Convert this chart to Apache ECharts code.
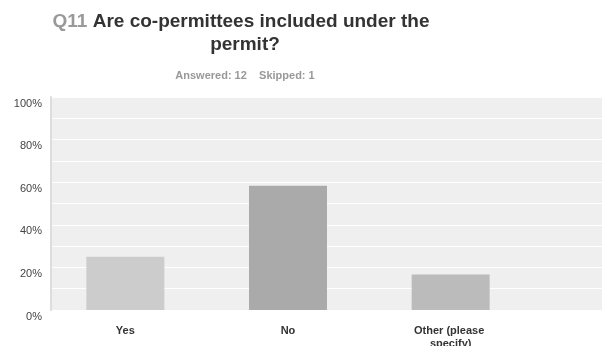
<!DOCTYPE html>
<html>
<head>
<meta charset="utf-8">
<script src="https://cdn.jsdelivr.net/npm/echarts@6/dist/echarts.min.js"></script>
<style>
html,body{margin:0;padding:0;background:#fff;}
#chart{width:602px;height:346px;}
</style>
</head>
<body>
<div id="chart"></div>
<script>
// Survey question Q11 response shares
const categories = ['Yes', 'No', 'Other (please specify)'];
const percentages = [25, 58.33, 16.67];
const barColors = ['#cccccc', '#aaaaaa', '#bbbbbb'];
const yTicks = [0, 20, 40, 60, 80, 100];

const chart = echarts.init(document.getElementById('chart'), null, { renderer: 'canvas' });
const font = 'Liberation Sans, Arial, sans-serif';

chart.setOption({
  animation: false,
  title: [
    {
      text: '{q|Q11} {t|Are co-permittees included under the}',
      left: 236, top: 5, textAlign: 'center',
      textStyle: {
        fontFamily: font, fontSize: 19, fontWeight: 'bold', lineHeight: 23,
        rich: {
          q: { color: '#999999', fontFamily: font, fontSize: 19, fontWeight: 'bold', lineHeight: 23 },
          t: { color: '#333333', fontFamily: font, fontSize: 19, fontWeight: 'bold', lineHeight: 23 }
        }
      }
    },
    {
      text: 'permit?',
      left: 240, top: 28, textAlign: 'center',
      textStyle: { fontFamily: font, fontSize: 19, fontWeight: 'bold', color: '#333333', lineHeight: 23 }
    },
    {
      text: 'Answered: 12    Skipped: 1',
      left: 240, top: 65, textAlign: 'center',
      textStyle: { fontFamily: font, fontSize: 11, fontWeight: 'bold', color: '#999999' }
    }
  ],
  grid: [
    { left: 51, right: 0, top: 97, bottom: 36, outerBoundsMode: 'none' },
    { left: 44, width: 488, top: 97, bottom: 36, outerBoundsMode: 'none' }
  ],
  xAxis: [
    { gridIndex: 0, type: 'value', show: false, min: 0, max: 1 },
    {
      gridIndex: 1, type: 'category', data: categories,
      axisLine: { show: false }, axisTick: { show: false },
      axisLabel: {
        margin: 14, fontFamily: font, fontSize: 11, fontWeight: 'bold', color: '#333333',
        width: 95, overflow: 'break', lineHeight: 13
      }
    }
  ],
  yAxis: [
    {
      gridIndex: 0, type: 'value', min: 0, max: 100, interval: 10,
      axisLine: { show: true, lineStyle: { color: '#dddddd', width: 2 } },
      axisTick: { show: false },
      axisLabel: {
        margin: 9, fontFamily: font, fontSize: 11, color: '#444444',
        verticalAlign: 'top', lineHeight: 13,
        formatter: v => yTicks.includes(v) ? v + '%' : ''
      },
      splitLine: { show: true, lineStyle: { color: '#ffffff', width: 1 } },
      splitArea: { show: true, areaStyle: { color: ['#efefef', '#efefef'] } }
    },
    { gridIndex: 1, type: 'value', min: 0, max: 100, show: false }
  ],
  series: [
    {
      type: 'bar', xAxisIndex: 1, yAxisIndex: 1,
      barWidth: 78,
      data: percentages.map((v, i) => ({ value: v, itemStyle: { color: barColors[i] } }))
    }
  ]
});
</script>
</body>
</html>
